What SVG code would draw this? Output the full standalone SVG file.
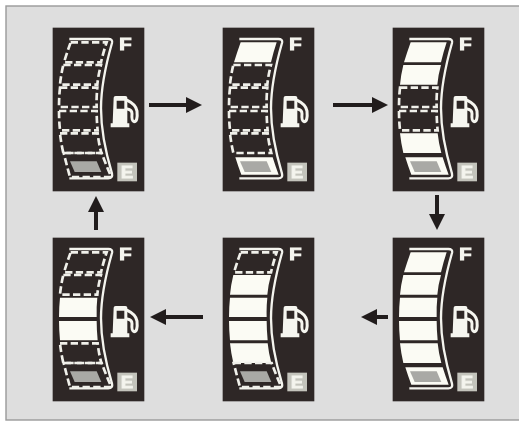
<svg xmlns="http://www.w3.org/2000/svg" xmlns:xlink="http://www.w3.org/1999/xlink" width="519" height="422" viewBox="0 0 519 422">
<style>
.panel{fill:#2e2726}
.rail{fill:none;stroke:#f4f4ee;stroke-width:7}
.full{fill:#fbfbf4}
.dash{fill:none;stroke:#f0f0ea;stroke-width:8;stroke-dasharray:22 10}
.gray{fill:#a9a9a5}
.pump{fill:#f6f6f0}
.hose{fill:none;stroke:#f6f6f0;stroke-width:9;stroke-linecap:round;stroke-linejoin:round}
.ltr{font-family:"Liberation Sans",Arial,sans-serif;font-weight:700;fill:#f4f4ee;stroke:#f4f4ee;stroke-width:3}
.arr{fill:none;stroke:#211c1c;stroke-width:4}
.head{fill:#211c1c}
.soft{filter:blur(1.3px)}
.softc{filter:blur(.4px)}
</style>
<defs>
<g id="base">
<rect class="panel" x="38" y="38" width="275" height="491"/>
<path class="rail" d="M88 72H205Q219 72 216 84Q183 200 183 280Q183 365 216 476Q219 490 205 490H88"/>
<text class="ltr" x="238" y="104" font-size="48" textLength="37" lengthAdjust="spacingAndGlyphs">F</text>
<rect x="232" y="443" width="59" height="56" fill="#c4c4bc"/>
<text class="ltr" x="243" y="489" font-size="48" textLength="36" lengthAdjust="spacingAndGlyphs">E</text>
<path class="hose" d="M262 256Q288 268 291 288Q294 320 282 320Q274 318 276 296Q276 284 262 282"/>
<path class="pump" fill-rule="evenodd" d="M221 248Q221 243 227 243H256Q262 243 262 248V325H268V337H212V325H218ZM230 257V281H253V257Z"/>
</g>
<path id="s1" d="M92 82H200Q190 112 183 142H72Q82 110 92 82Z"/>
<path id="s2" d="M70 150H183Q175 178 172 209H60Q63 178 70 150Z"/>
<path id="s3" d="M60 218H172Q169 246 170 276H57Q57 246 60 218Z"/>
<path id="s4" d="M57 288H170Q170 316 173 346H60Q57 316 57 288Z"/>
<path id="s5" d="M60 355H173Q176 384 184 414H70Q63 384 60 355Z"/>
<path id="s6f" d="M76 427H188Q196 453 206 479H94Q84 453 76 427Z"/>
<path id="s6d" d="M71 414H185Q198 450 214 486H90Q80 450 71 414Z"/>
<path id="g" d="M90 439H170L184 471H104Z"/>
</defs>
<rect x="0" y="0" width="519" height="422" fill="#fff"/>
<rect x="6" y="6" width="514" height="414" fill="#dedede" stroke="#9a9a9a" stroke-width="1.4"/>

<g id="gauge-1" class="soft" transform="translate(40 15) scale(.3333)">
<use xlink:href="#base"/>
<use class="dash" xlink:href="#s1"/><use class="dash" xlink:href="#s2"/><use class="dash" xlink:href="#s3"/><use class="dash" xlink:href="#s4"/><use class="dash" xlink:href="#s5"/><use class="dash" xlink:href="#s6d"/><use class="gray" xlink:href="#g"/>
</g>
<g id="gauge-2" class="soft" transform="translate(210 15) scale(.3333)">
<use xlink:href="#base"/>
<use class="full" xlink:href="#s1"/><use class="dash" xlink:href="#s2"/><use class="dash" xlink:href="#s3"/><use class="dash" xlink:href="#s4"/><use class="dash" xlink:href="#s5"/><use class="full" xlink:href="#s6f"/><use class="gray" xlink:href="#g"/>
</g>
<g id="gauge-3" class="soft" transform="translate(380 15) scale(.3333)">
<use xlink:href="#base"/>
<use class="full" xlink:href="#s1"/><use class="full" xlink:href="#s2"/><use class="dash" xlink:href="#s3"/><use class="dash" xlink:href="#s4"/><use class="full" xlink:href="#s5"/><use class="full" xlink:href="#s6f"/><use class="gray" xlink:href="#g"/>
</g>
<g id="gauge-4" class="soft" transform="translate(380 225) scale(.3333)">
<use xlink:href="#base"/>
<use class="full" xlink:href="#s1"/><use class="full" xlink:href="#s2"/><use class="full" xlink:href="#s3"/><use class="full" xlink:href="#s4"/><use class="full" xlink:href="#s5"/><use class="full" xlink:href="#s6f"/><use class="gray" xlink:href="#g"/>
</g>
<g id="gauge-5" class="soft" transform="translate(210 225) scale(.3333)">
<use xlink:href="#base"/>
<use class="dash" xlink:href="#s1"/><use class="full" xlink:href="#s2"/><use class="full" xlink:href="#s3"/><use class="full" xlink:href="#s4"/><use class="full" xlink:href="#s5"/><use class="dash" xlink:href="#s6d"/><use class="gray" xlink:href="#g"/>
</g>
<g id="gauge-6" class="soft" transform="translate(40 225) scale(.3333)">
<use xlink:href="#base"/>
<use class="dash" xlink:href="#s1"/><use class="dash" xlink:href="#s2"/><use class="full" xlink:href="#s3"/><use class="full" xlink:href="#s4"/><use class="dash" xlink:href="#s5"/><use class="dash" xlink:href="#s6d"/><use class="gray" xlink:href="#g"/>
</g>

<g id="connectors" class="softc">
<path class="arr" d="M149 105H188"/><path class="head" d="M202 105L186 97V113Z"/>
<path class="arr" d="M333 105H374"/><path class="head" d="M388 105L372 97V113Z"/>
<path class="arr" d="M437 195V216"/><path class="head" d="M437 230L429 214H445Z"/>
<path class="arr" d="M388 317H374"/><path class="head" d="M361 317L377 309V325Z"/>
<path class="arr" d="M203 317H164"/><path class="head" d="M150 317L166 309V325Z"/>
<path class="arr" d="M96 230V210"/><path class="head" d="M96 196L88 212H104Z"/>
</g>
</svg>
